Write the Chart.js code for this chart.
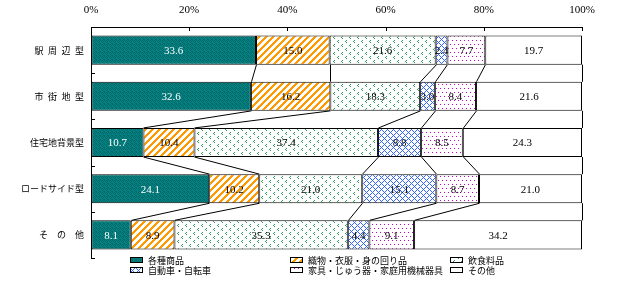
<!DOCTYPE html>
<html lang="ja">
<head>
<meta charset="UTF-8">
<title>業態別 販売額構成比</title>
<script src="https://cdn.jsdelivr.net/npm/chart.js"></script>
<style>
  body { margin: 0; background: #fff; }
  #wrap { width: 630px; height: 283px; }
</style>
</head>
<body>
<div id="wrap"><canvas id="chart" width="630" height="283"></canvas></div>
<script>
// 立地別の商品構成比（%）
const categories = ['駅\u2002周\u2002辺\u2002型', '市\u2002街\u2002地\u2002型', '住宅地背景型', 'ロードサイド型', 'そ\u3000の\u3000他'];
const seriesNames = ['各種商品', '織物・衣服・身の回り品', '飲食料品', '自動車・自転車', '家具・じゅう器・家庭用機械器具', 'その他'];
const kakushu  = [33.6, 32.6, 10.7, 24.1, 8.1];
const orimono  = [15.0, 16.2, 10.4, 10.2, 8.9];
const inshoku  = [21.6, 18.3, 37.4, 21.0, 35.3];
const jidousha = [2.4, 3.0, 8.8, 15.1, 4.4];
const kagu     = [7.7, 8.4, 8.5, 8.7, 9.1];
const sonota   = [19.7, 21.6, 24.3, 21.0, 34.2];
const xTicks = [0, 20, 40, 60, 80, 100];

const seriesValues = [kakushu, orimono, inshoku, jidousha, kagu, sonota];

// 100%積み上げなので行ごとに正規化
const rowSums = categories.map((c, i) => seriesValues.reduce((s, arr) => s + arr[i], 0));

function tile(w, h, bg, fg, on) {
    const c = document.createElement('canvas');
    c.width = w; c.height = h;
    const g = c.getContext('2d');
    g.fillStyle = bg; g.fillRect(0, 0, w, h);
    g.fillStyle = fg;
    for (let y = 0; y < h; y++)
        for (let x = 0; x < w; x++)
            if (on(x, y)) g.fillRect(x, y, 1, 1);
    return g.createPattern(c, 'repeat');
}

const fills = [
    tile(4, 4, '#078282', '#006a6a', (x, y) => (x * 3 + y * 2) % 5 < 2),
    tile(7, 7, '#ffffff', '#ff9900', (x, y) => (x + y) % 7 < 3),
    tile(8, 8, '#ffffff', '#2f9a5f', (x, y) => (x === 2 && y === 0) || (x === 1 && y === 1) || (x === 2 && y === 2) ||
                                               (x === 6 && y === 4) || (x === 5 && y === 5) || (x === 6 && y === 6)),
    tile(6, 6, '#ffffff', '#3366ff', (x, y) => (x - y + 6) % 6 === 0 || (x + y) % 6 === 0),
    tile(4, 8, '#ffffff', '#cc00cc', (x, y) => (x === 0 && y === 0) || (x === 2 && y === 4)),
    '#ffffff'
];
const labelColors = ['#ffffff', '#000', '#000', '#000', '#000', '#000'];

const numFont = '11px "Liberation Serif"';
const jpFont = '9px "Noto Sans CJK JP"';

const overlay = {
    id: 'overlay',
    afterDatasetsDraw(chart) {
        const ctx = chart.ctx;
        const area = chart.chartArea;
        const metas = seriesValues.map((s, j) => chart.getDatasetMeta(j));
        ctx.save();
        ctx.strokeStyle = '#000';
        ctx.lineWidth = 1;
        // 区分線
        for (let i = 0; i < categories.length - 1; i++) {
            for (let j = 0; j < seriesValues.length; j++) {
                const a = metas[j].data[i], b = metas[j].data[i + 1];
                ctx.beginPath();
                ctx.moveTo(Math.round(a.x) + 0.5, a.y + a.height / 2);
                ctx.lineTo(Math.round(b.x) + 0.5, b.y - b.height / 2);
                ctx.stroke();
            }
        }
        // 内向きの目盛
        const xs = chart.scales.x;
        xTicks.forEach(v => {
            const px = Math.round(xs.getPixelForValue(v)) + 0.5;
            ctx.beginPath(); ctx.moveTo(px, area.top); ctx.lineTo(px, area.top + 4); ctx.stroke();
        });
        for (let k = 0; k <= categories.length; k++) {
            const py = Math.round(area.top + k * (area.bottom - area.top) / categories.length) + 0.5;
            ctx.beginPath(); ctx.moveTo(area.left, py); ctx.lineTo(area.left + 4, py); ctx.stroke();
        }
        // データラベル
        ctx.font = numFont;
        ctx.textAlign = 'center';
        ctx.textBaseline = 'middle';
        seriesValues.forEach((arr, j) => {
            metas[j].data.forEach((el, i) => {
                ctx.fillStyle = labelColors[j];
                ctx.fillText(arr[i].toFixed(1), (el.x + el.base) / 2, el.y + 1);
            });
        });
        ctx.restore();
    },
    afterDraw(chart) {
        // 凡例（3列×2行）
        const ctx = chart.ctx;
        const cols = [130, 290, 450];
        const rows = [260, 270];
        ctx.save();
        ctx.font = jpFont;
        ctx.textBaseline = 'middle';
        ctx.textAlign = 'left';
        seriesNames.forEach((name, j) => {
            const x = cols[j % 3], y = rows[Math.floor(j / 3)];
            ctx.fillStyle = fills[j];
            ctx.fillRect(x, y - 2, 12, 4);
            ctx.strokeStyle = '#000';
            ctx.lineWidth = 1;
            ctx.strokeRect(x + 0.5, y - 2.5, 12, 5);
            ctx.fillStyle = '#000';
            ctx.fillText(name, x + 18, y + 1);
        });
        ctx.restore();
    }
};

new Chart(document.getElementById('chart'), {
    type: 'bar',
    data: {
        labels: categories,
        datasets: seriesValues.map((arr, j) => ({
            label: seriesNames[j],
            data: arr.map((v, i) => v / rowSums[i] * 100),
            backgroundColor: fills[j],
            borderColor: '#000',
            borderWidth: 1,
            borderSkipped: false,
            barPercentage: 0.63,
            categoryPercentage: 1
        }))
    },
    options: {
        indexAxis: 'y',
        responsive: false,
        devicePixelRatio: 1,
        animation: false,
        layout: { padding: { left: 0, right: 48, top: 0, bottom: 25 } },
        plugins: { legend: { display: false }, tooltip: { enabled: false } },
        scales: {
            x: {
                position: 'top',
                stacked: true,
                min: 0,
                max: 100,
                afterBuildTicks(s) { s.ticks = xTicks.map(v => ({ value: v })); },
                ticks: { callback: v => v + '%', font: { family: 'Liberation Serif', size: 11 }, color: '#000', padding: 10, maxRotation: 0 },
                grid: { drawOnChartArea: false, drawTicks: false },
                border: { color: '#000' },
                afterFit(s) { s.height = 27; }
            },
            y: {
                stacked: true,
                ticks: { font: { family: 'Noto Sans CJK JP', size: 9 }, color: '#000', padding: 7 },
                grid: { drawOnChartArea: false, drawTicks: false },
                border: { color: '#000' },
                afterFit(s) { s.width = 91; }
            }
        }
    },
    plugins: [overlay]
});
</script>
</body>
</html>
